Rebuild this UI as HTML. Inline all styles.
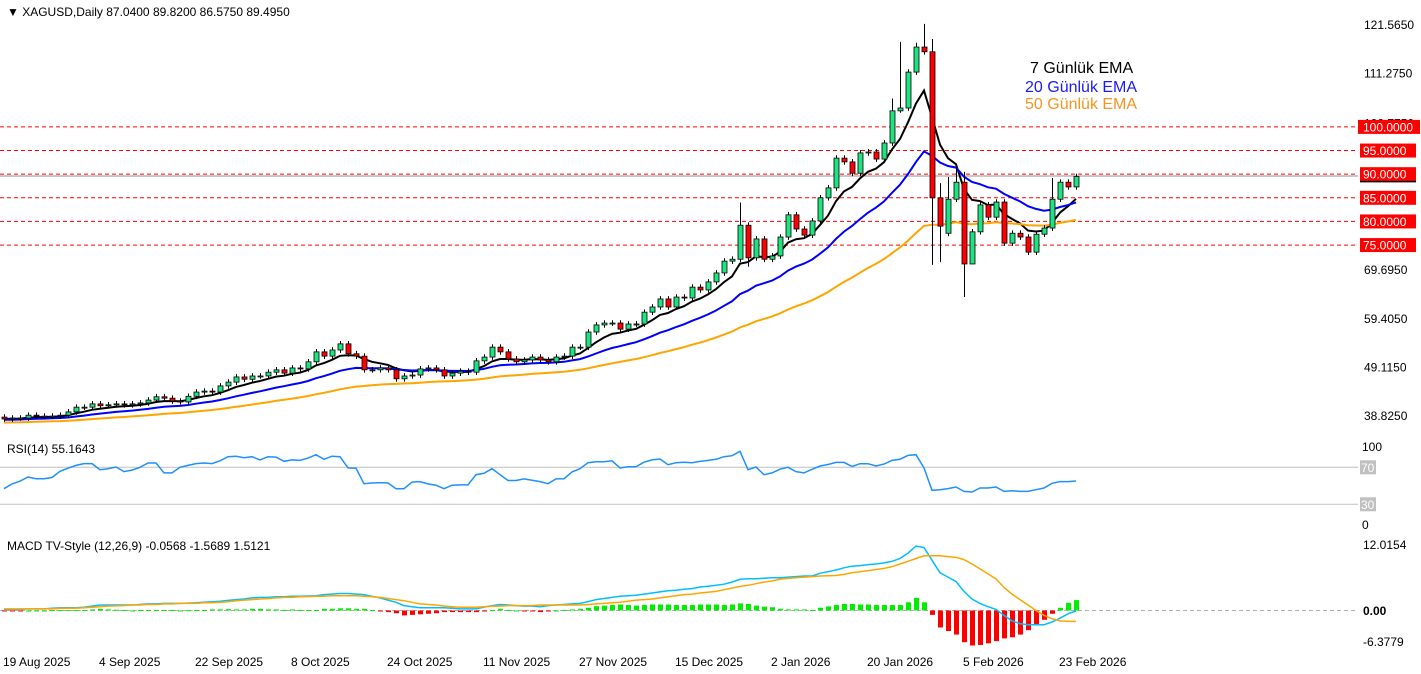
<!DOCTYPE html>
<html><head><meta charset="utf-8">
<style>
html,body{margin:0;padding:0;background:#fff;}
svg{display:block;font-family:"Liberation Sans",Tahoma,sans-serif;}
</style></head>
<body>
<svg id="chart" width="1421" height="674" viewBox="0 0 1421 674" xmlns="http://www.w3.org/2000/svg">
<rect x="0" y="0" width="1421" height="674" fill="#fff"/>
<text x="7" y="16" font-size="12" fill="#000">▼ XAGUSD,Daily  87.0400 89.8200 86.5750 89.4950</text>
<g id="levels"></g>
<g id="ema"></g>
<g id="candles"></g>
<g id="axis"></g>
<g id="rsi"></g>
<g id="macd"></g>
<g id="dates"></g>
<text x="1030" y="73" font-size="16" fill="#000">7 Günlük EMA</text>
<text x="1025" y="92" font-size="16" fill="#1a1aff">20 Günlük EMA</text>
<text x="1025" y="109" font-size="16" fill="#f7941d">50 Günlük EMA</text>
<text x="7" y="453" font-size="12" fill="#000">RSI(14) 55.1643</text>
<text x="7" y="550" font-size="12" fill="#000">MACD TV-Style (12,26,9) -0.0568 -1.5689 1.5121</text>
</svg>
<script>
const closes=[38.2,38.4,38.4,39.0,38.8,38.8,38.8,39.0,39.7,40.7,40.7,41.4,41.0,41.2,41.4,41.2,41.4,41.6,42.2,42.9,42.6,42.0,41.8,43.0,43.9,44.1,43.9,45.2,46.0,47.1,46.6,47.3,47.3,48.1,48.6,47.9,49.0,48.8,50.3,52.4,51.5,52.8,54.1,52.0,51.5,48.6,48.6,49.0,48.6,46.7,47.3,47.5,48.8,49.0,48.6,47.3,47.9,48.3,48.1,50.5,51.3,53.4,52.4,50.9,50.3,50.7,51.3,50.7,50.3,51.3,51.5,53.4,53.4,56.6,58.1,58.5,58.5,57.2,58.3,58.3,60.8,61.9,63.6,61.9,64.0,63.8,66.1,65.5,67.2,69.1,71.6,72.0,79.2,72.3,76.3,72.0,72.7,76.7,81.4,78.4,77.1,80.1,85.0,87.1,93.4,92.6,90.2,94.5,94.7,93.2,96.6,103.4,104.0,111.6,116.9,115.9,85.0,79.0,84.7,88.3,71.0,77.8,83.5,80.9,84.1,75.4,77.5,76.7,73.5,77.3,78.6,84.7,88.3,87.3,89.5];
const firstOpen=38.6;
const openOverrides={118:77.5};
const highOverrides={92:84.0,111:106.0,112:118.0,114:117.8,115:121.8,116:118.6,117:88.1,118:89.4,119:91.5,120:90.5,131:89.2};
const lowOverrides={93:70.4,112:103.0,116:70.8,117:71.4,120:64.0,121:71.2};
const emaSeeds=[38.2,38.0,37.4];
const emaPeriods=[7,20,50];
const levels=[100,95,90,85,80,75];
const priceTicks=[121.565,111.275,100.775,69.695,59.405,49.115,38.825];
const rsiVals=[46.9,52,55,59.5,57.7,57.7,59,65.7,69,72,74,74,67.4,68.5,70.3,65.3,67,70,74.6,74.6,64,64,70,72,74,74.6,74,77,81.5,81.9,80.4,81.5,78,81.5,81,76.5,78,77.5,80,83.6,78.6,82,81.5,69.3,69,52.3,53,53.3,53,46.9,46.9,54,54.5,52,50.6,46.9,50.6,51,51,62,63.5,68.5,62,55.7,55.7,57.5,56,54.5,52.3,57.5,57.7,65,68.5,75,76,76,77,69.3,70.5,70.5,75.5,78,79,72.8,75,75.5,75,76.4,77.5,78.6,81.5,82.5,87.3,67.4,70.3,62,64,68,70,65.3,64,67.8,71.4,73,75.3,75.3,71,73.9,73.9,71.4,73.5,77.5,78.6,82.9,83.6,69.3,45.1,45.8,47,48.7,44,43.3,47.6,47.6,48.7,44,44.7,44,44,45.8,47.6,52.7,54.5,54.5,55.2];
const macdVals=[0.2,0.2,0.2,0.3,0.3,0.3,0.4,0.5,0.5,0.5,0.6,0.8,1.0,1.0,1.0,1.0,1.0,1.1,1.2,1.2,1.3,1.3,1.3,1.35,1.4,1.5,1.6,1.7,1.85,2.0,2.1,2.3,2.4,2.4,2.5,2.5,2.6,2.6,2.65,2.7,2.9,3.0,3.1,3.1,3.0,2.9,2.6,2.3,1.9,1.5,0.9,0.7,0.5,0.5,0.5,0.5,0.4,0.3,0.3,0.3,0.6,0.9,1.1,1.0,0.9,0.8,0.8,0.7,0.9,1.0,1.1,1.2,1.3,1.6,2.0,2.2,2.4,2.6,2.7,2.8,3.0,3.2,3.4,3.6,3.7,3.9,4.0,4.3,4.45,4.6,4.8,5.2,5.7,5.8,5.8,5.9,6.0,6.0,6.1,6.2,6.3,6.3,6.8,7.1,7.4,7.8,8.1,8.2,8.4,8.5,8.7,9.0,9.5,10.5,11.8,11.5,9.2,6.9,6.1,5.3,3.5,2.1,1.3,0.7,0.2,-0.9,-1.9,-2.4,-2.6,-2.6,-2.6,-2.1,-1.4,-0.6,-0.1];
const signalVals=[0.3,0.3,0.3,0.3,0.3,0.3,0.3,0.4,0.4,0.4,0.5,0.6,0.7,0.8,0.85,0.9,1.0,1.0,1.1,1.1,1.2,1.2,1.3,1.3,1.3,1.4,1.4,1.5,1.6,1.8,1.9,2.0,2.1,2.2,2.3,2.4,2.4,2.5,2.55,2.6,2.6,2.7,2.7,2.7,2.7,2.6,2.5,2.4,2.2,2.0,1.8,1.5,1.2,1.1,1.0,0.8,0.7,0.6,0.6,0.6,0.7,0.8,0.8,0.9,0.9,0.9,0.9,1.0,1.0,1.0,1.0,1.0,1.0,1.1,1.2,1.3,1.4,1.5,1.7,1.9,2.0,2.1,2.3,2.5,2.7,2.9,3.0,3.2,3.35,3.5,3.8,4.1,4.4,4.6,4.9,5.2,5.4,5.7,5.9,6.0,6.1,6.2,6.3,6.35,6.4,6.6,6.9,7.1,7.3,7.5,7.7,8.0,8.5,9.0,9.5,10.0,10.0,10.0,9.85,9.7,9.3,8.5,7.6,6.7,5.8,4.2,3.0,2.0,1.0,0.0,-0.9,-1.5,-1.9,-2.0,-2.0];
const dateLabels=["19 Aug 2025","4 Sep 2025","22 Sep 2025","8 Oct 2025","24 Oct 2025","11 Nov 2025","27 Nov 2025","15 Dec 2025","2 Jan 2026","20 Jan 2026","5 Feb 2026","23 Feb 2026"];
const dateBarIdx=[0,12,24,36,48,60,72,84,96,108,120,132];

const NS="http://www.w3.org/2000/svg";
function mk(tag,attrs,parent){const e=document.createElementNS(NS,tag);for(const k in attrs)e.setAttribute(k,attrs[k]);parent.appendChild(e);return e;}
const xB=i=>4+8*i;
const yP=p=>25+(121.565-p)*4.726;
const yR=r=>467.3-(r-70)*0.925;
const yM=m=>610.5-m*5.47;
const PW=1358;

const gL=document.getElementById('levels');
levels.forEach(v=>{
  const l=mk('line',{x1:0,x2:PW,y1:yP(v),y2:yP(v),stroke:'#ff0000','stroke-dasharray':'4,3','stroke-width':1},gL);
  
  
});
const bid=mk('line',{x1:0,x2:PW,y1:yP(closes[closes.length-1])-0.5,y2:yP(closes[closes.length-1])-0.5,stroke:'#8a96a0','stroke-width':1},gL);



const gE=document.getElementById('ema');
const emaColors=['#000000','#0000ff','#ffa500'];
emaPeriods.forEach((per,k)=>{
  const a=2/(per+1);let e=emaSeeds[k];const pts=[];
  closes.forEach((c,i)=>{e=a*c+(1-a)*e;pts.push(xB(i)+','+yP(e).toFixed(1));});
  const pl=mk('polyline',{points:pts.join(' '),fill:'none',stroke:emaColors[k],'stroke-width':2},gE);
  
  
});

const gC=document.getElementById('candles');
closes.forEach((c,i)=>{
  const o=(i in openOverrides)?openOverrides[i]:(i===0?firstOpen:closes[i-1]);
  const hi=(i in highOverrides)?highOverrides[i]:Math.max(o,c)+0.6;
  const lo=(i in lowOverrides)?lowOverrides[i]:Math.min(o,c)-0.6;
  const x=xB(i);
  const g=mk('g',{},gC);
  
  
  mk('line',{x1:x+0.5,x2:x+0.5,y1:yP(hi),y2:yP(lo),stroke:'#000','stroke-width':1},g);
  const top=yP(Math.max(o,c)),bot=yP(Math.min(o,c));
  const h=Math.max(1,bot-top);
  mk('rect',{x:x-2,y:top,width:5,height:h,fill:c>=o?'#1de480':'#ff0000',stroke:'#000','stroke-width':0.8},g);
});

const gA=document.getElementById('axis');
priceTicks.forEach(v=>{
  const t=mk('text',{x:1364,y:yP(v)+4,'font-size':12,fill:'#000'},gA);
  t.textContent=v.toFixed(4);
  
  
});
levels.forEach(v=>{
  const y=yP(v);
  const r=mk('rect',{x:v>=100?1358:1360,y:y-7,width:v>=100?62:56,height:14,fill:'#ff0000'},gA);
  
  
  const t=mk('text',{x:1363,y:y+4.5,'font-size':12,fill:'#fff'},gA);
  t.textContent=v.toFixed(4);
  
  
});
mk('line',{x1:1360,x2:1416,y1:yP(90)+7.5,y2:yP(90)+7.5,stroke:'#000','stroke-width':1.5},gA);

const gR=document.getElementById('rsi');
[70,30].forEach(v=>{
  const l=mk('line',{x1:0,x2:PW,y1:yR(v),y2:yR(v),stroke:'#c0c0c0','stroke-width':1},gR);
  
  
  const r=mk('rect',{x:1360,y:yR(v)-7,width:16,height:14,fill:'#c0c0c0'},gR);
  
  
  const t=mk('text',{x:1361,y:yR(v)+4.5,'font-size':12,fill:'#fff'},gR);
  t.textContent=v;
  
  
});
[[100,451],[0,529]].forEach(([v,y])=>{
  const t=mk('text',{x:1362,y:y,'font-size':12,fill:'#000'},gR);
  t.textContent=v;
  
  
});
const rl=mk('polyline',{points:rsiVals.map((v,i)=>xB(i)+','+yR(v).toFixed(1)).join(' '),fill:'none',stroke:'#1e90ff','stroke-width':1.5},gR);



const gM=document.getElementById('macd');
const z=mk('line',{x1:0,x2:PW,y1:yM(0),y2:yM(0),stroke:'#b0b0b0','stroke-dasharray':'4,3','stroke-width':1},gM);


macdVals.forEach((m,i)=>{
  const h=m-signalVals[i];
  const y0=yM(0),y1=yM(h);
  const r=mk('rect',{x:xB(i)-2,y:Math.min(y0,y1),width:5,height:Math.max(1,Math.abs(y1-y0)),fill:h>=0?'#00ee00':'#ff0000'},gM);
  
  
});
const ml=mk('polyline',{points:macdVals.map((v,i)=>xB(i)+','+yM(v).toFixed(1)).join(' '),fill:'none',stroke:'#00bfff','stroke-width':1.5},gM);


const sl=mk('polyline',{points:signalVals.map((v,i)=>xB(i)+','+yM(v).toFixed(1)).join(' '),fill:'none',stroke:'#ffa500','stroke-width':1.5},gM);


[["12.0154",549,false],["0.00",615,true],["-6.3779",646,false]].forEach(([s,y,b])=>{
  const t=mk('text',{x:1363,y:y,'font-size':12,fill:'#000','font-weight':b?'bold':'normal'},gM);
  t.textContent=s;
  
  
});

const gD=document.getElementById('dates');
dateLabels.forEach((s,k)=>{
  const t=mk('text',{x:xB(dateBarIdx[k])-1,y:666,'font-size':12,fill:'#000'},gD);
  t.textContent=s;
  
  
});
</script>
</body></html>
